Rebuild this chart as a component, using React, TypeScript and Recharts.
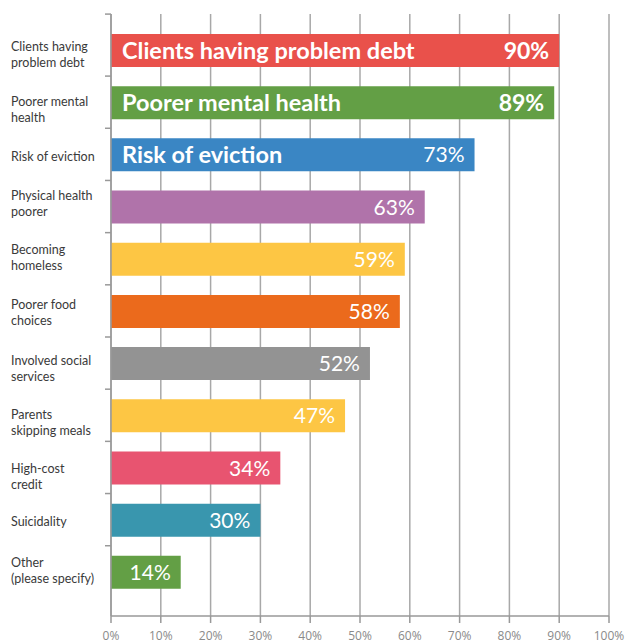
import React from "react";
import { BarChart, Bar, XAxis, YAxis, CartesianGrid, Cell, LabelList } from "recharts";

const categories = [
  "Clients having\nproblem debt",
  "Poorer mental\nhealth",
  "Risk of eviction",
  "Physical health\npoorer",
  "Becoming\nhomeless",
  "Poorer food\nchoices",
  "Involved social\nservices",
  "Parents\nskipping meals",
  "High-cost\ncredit",
  "Suicidality",
  "Other\n(please specify)",
];
const values = [90, 89, 73, 63, 59, 58, 52, 47, 34, 30, 14];
const barTitles = ["Clients having problem debt", "Poorer mental health", "Risk of eviction"];
const boldValues = [true, true, false];
const colors = [
  "#e9514b", "#639f45", "#3a86c4", "#b073aa", "#fdc644", "#eb6a1c",
  "#939393", "#fdc644", "#e85470", "#3996ae", "#639f45",
];
const xTicks = [0, 10, 20, 30, 40, 50, 60, 70, 80, 90, 100];

const data = categories.map((name, i) => ({
  name,
  value: values[i],
  title: barTitles[i] || "",
  bold: boldValues[i] || false,
}));

const FONT = "Lato, 'Open Sans', sans-serif";
const AXIS_X = 111;
const HALF_BAND = 26;
// small vertical nudges of the left labels, as laid out in the original
const LABEL_SHIFT = [5, 7, 2, -3, -1.5, 2, 5.5, 7.5, 9.5, 2, -1];

const CategoryTick = (props: any) => {
  const { y, payload, index } = props;
  const lines = String(payload.value).split("\n");
  const last = index === categories.length - 1;
  const cy = y + (LABEL_SHIFT[index] || 0);
  const top = cy - ((lines.length - 1) * 16) / 2;
  return (
    <g>
      {lines.map((l, k) => (
        <text key={k} x={11} y={top + k * 16} dy="0.35em" fontSize={12.5} fill="#3a3a3a" fontFamily={FONT}>
          {l}
        </text>
      ))}
      {index === 0 && (
        <line x1={AXIS_X - 6} x2={AXIS_X} y1={y - HALF_BAND - 10} y2={y - HALF_BAND - 10} stroke="#999" strokeWidth={1.5} />
      )}
      {!last && (
        <line x1={AXIS_X - 6} x2={AXIS_X} y1={y + HALF_BAND} y2={y + HALF_BAND} stroke="#999" strokeWidth={1.5} />
      )}
    </g>
  );
};

const BarText = (props: any) => {
  const { x, y, width, height, index } = props;
  const d = data[index];
  const cy = y + height / 2;
  return (
    <g fontFamily={FONT} fill="#fff">
      {d.title && (
        <text x={x + 11} y={cy} dy="0.36em" fontSize={23.5} fontWeight={700} fill="#fff">
          {d.title}
        </text>
      )}
      <text
        x={x + width - 10}
        y={cy}
        dy="0.36em"
        textAnchor="end"
        fontSize={d.bold ? 23 : 21}
        fontWeight={d.bold ? 700 : 400}
        fill="#fff"
      >
        {d.value}%
      </text>
    </g>
  );
};

export default function App() {
  return (
    <div style={{ position: "absolute", left: 0, top: 0, background: "#fff" }}>
      <BarChart
        width={625}
        height={644}
        data={data}
        layout="vertical"
        margin={{ top: 14, right: 16, bottom: 0, left: 0 }}
      >
        <CartesianGrid horizontal={false} stroke="#a8a8a8" strokeWidth={1.5} />
        <XAxis
          type="number"
          domain={[0, 100]}
          ticks={xTicks}
          tickFormatter={(v: number) => `${v}%`}
          axisLine={{ stroke: "#999", strokeWidth: 1.5 }}
          tickLine={{ stroke: "#999", strokeWidth: 1.5 }}
          tickSize={7}
          tickMargin={8}
          tick={{ fill: "#8a8a8a", fontSize: 12, fontFamily: "'Open Sans', sans-serif" }}
          height={28}
          interval={0}
        />
        <YAxis
          type="category"
          dataKey="name"
          width={111}
          axisLine={{ stroke: "#999", strokeWidth: 1.5 }}
          tickLine={false}
          tick={<CategoryTick />}
          padding={{ top: 10, bottom: 18 }}
          interval={0}
        />
        <Bar dataKey="value" barSize={33} isAnimationActive={false}>
          {data.map((_, i) => (
            <Cell key={i} fill={colors[i]} />
          ))}
          <LabelList dataKey="value" content={<BarText />} />
        </Bar>
      </BarChart>
    </div>
  );
}
